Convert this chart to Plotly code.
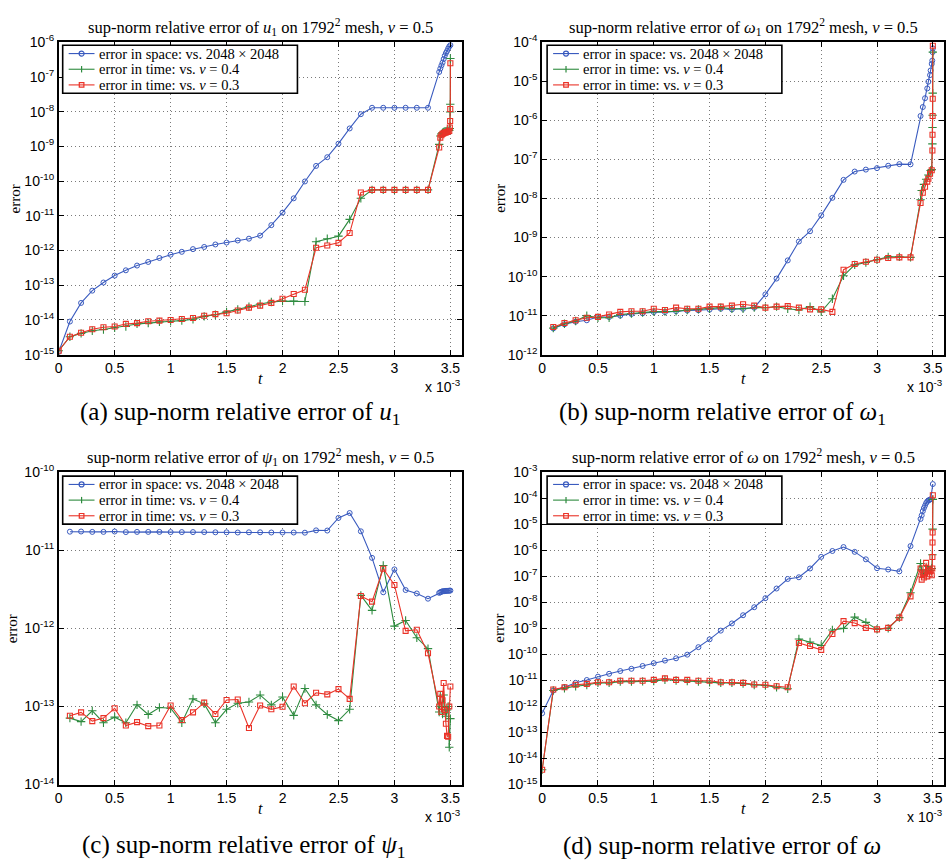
import plotly.graph_objects as go

W, H = 946, 867
SERIF = "Liberation Serif"
SANS = "Liberation Sans"

BLUE = "#3a5bbf"
GREEN = "#2e8b3f"
RED = "#ea3328"

# ---------------- time stamps (in units of 1e-3) ----------------
t_0 = [0.0, 0.1, 0.2, 0.3, 0.4, 0.5, 0.6, 0.7, 0.8, 0.9, 1.0, 1.1, 1.2, 1.3, 1.4, 1.5, 1.6,
       1.7, 1.8, 1.9, 2.0, 2.1, 2.2, 2.3, 2.4, 2.5, 2.6, 2.7, 2.8, 2.9, 3.0, 3.1, 3.2, 3.3]
t_1 = [0.1, 0.2, 0.3, 0.4, 0.5, 0.6, 0.7, 0.8, 0.9, 1.0, 1.1, 1.2, 1.3, 1.4, 1.5, 1.6,
       1.7, 1.8, 1.9, 2.0, 2.1, 2.2, 2.3, 2.4, 2.5, 2.6, 2.7, 2.8, 2.9, 3.0, 3.1, 3.2, 3.3]

# ---------------- (a) u1 ----------------
a_space = [1.2e-15, 9e-15, 3.1e-14, 7e-14, 1.2e-13, 1.9e-13, 2.7e-13, 3.7e-13, 4.7e-13, 6.1e-13,
           7.6e-13, 9.2e-13, 1.1e-12, 1.27e-12, 1.5e-12, 1.7e-12, 1.95e-12, 2.2e-12, 2.7e-12, 5.4e-12,
           1.24e-11, 3.2e-11, 9.8e-11, 2.75e-10, 4.9e-10, 1.2e-9, 3.3e-9, 8.5e-9, 1.3e-8, 1.3e-8,
           1.3e-8, 1.3e-8, 1.3e-8, 1.3e-8]
a_space_tail_t = [3.40, 3.41, 3.42, 3.43, 3.44, 3.45, 3.46, 3.47, 3.48, 3.49, 3.50]
a_space_tail = [1.4e-7, 1.75e-7, 2.15e-7, 2.6e-7, 3.3e-7, 4.1e-7, 4.9e-7, 5.6e-7, 6.6e-7, 7.6e-7, 8.3e-7]

a_nu04 = [1.3e-15, 3.3e-15, 4.1e-15, 4.9e-15, 5.3e-15, 6.0e-15, 6.5e-15, 7.7e-15, 8.1e-15, 8.8e-15,
          9.2e-15, 9.6e-15, 1.05e-14, 1.27e-14, 1.41e-14, 1.71e-14, 2.0e-14, 2.4e-14, 2.9e-14, 3.3e-14,
          3.5e-14, 3.5e-14, 3.4e-14, 1.8e-12, 2.2e-12, 2.6e-12, 7.9e-12, 3.2e-11, 5.6e-11, 5.6e-11,
          5.6e-11, 5.6e-11, 5.6e-11, 5.6e-11]
a_nu03 = [1.3e-15, 3.3e-15, 4.3e-15, 5.4e-15, 6.2e-15, 6.5e-15, 7.7e-15, 8.1e-15, 9.2e-15, 9.6e-15,
          1.0e-14, 1.07e-14, 1.14e-14, 1.32e-14, 1.47e-14, 1.57e-14, 1.87e-14, 2.27e-14, 2.6e-14, 3.1e-14,
          4.1e-14, 5.6e-14, 7.4e-14, 1.2e-12, 1.4e-12, 1.67e-12, 3.2e-12, 4.7e-11, 5.6e-11, 5.6e-11,
          5.6e-11, 5.6e-11, 5.6e-11, 5.6e-11]
a_time_tail_t = [3.40, 3.41, 3.42, 3.43, 3.44, 3.45, 3.46, 3.47, 3.48, 3.49, 3.495, 3.498, 3.499, 3.50]
a_nu04_tail = [1.15e-9, 2.0e-9, 2.3e-9, 2.5e-9, 2.6e-9, 2.7e-9, 2.75e-9, 2.8e-9, 2.85e-9, 2.9e-9,
               3.3e-9, 9.8e-9, 1.65e-8, 3.4e-7]
a_nu03_tail = [9.3e-10, 1.8e-9, 2.1e-9, 2.3e-9, 2.4e-9, 2.5e-9, 2.55e-9, 2.6e-9, 2.7e-9, 2.8e-9,
               3.5e-9, 5.4e-9, 1.2e-8, 2.5e-7]

# ---------------- (b) omega1 ----------------
b_space = [4.7e-12, 6.0e-12, 7.0e-12, 7.6e-12, 9.2e-12, 9.2e-12, 1.0e-11, 1.1e-11, 1.15e-11, 1.23e-11,
           1.23e-11, 1.3e-11, 1.35e-11, 1.37e-11, 1.43e-11, 1.5e-11, 1.45e-11, 1.5e-11, 1.6e-11, 3.5e-11,
           8.9e-11, 2.6e-10, 7.9e-10, 1.45e-9, 3.7e-9, 1.04e-8, 3.0e-8, 4.9e-8, 5.5e-8, 6.0e-8,
           6.9e-8, 7.6e-8, 7.5e-8]
b_space_tail_t = [3.39, 3.41, 3.43, 3.45, 3.46, 3.475, 3.48, 3.49, 3.495, 3.498, 3.50]
b_space_tail = [1.3e-6, 2.2e-6, 3.7e-6, 6.6e-6, 9.8e-6, 1.45e-5, 1.9e-5, 2.8e-5, 3.4e-5, 5.6e-5, 7.0e-5]

b_nu04 = [4.8e-12, 6.2e-12, 7.3e-12, 1.0e-11, 8.8e-12, 8.8e-12, 1.07e-11, 1.13e-11, 1.2e-11, 1.27e-11,
          1.27e-11, 1.3e-11, 1.4e-11, 1.45e-11, 1.5e-11, 1.6e-11, 1.5e-11, 1.5e-11, 1.6e-11, 1.6e-11,
          1.7e-11, 1.5e-11, 1.4e-11, 1.7e-11, 1.25e-11, 2.7e-11, 1.05e-10, 2.0e-10, 2.3e-10, 2.7e-10,
          3.2e-10, 3.2e-10, 3.1e-10]
b_nu04_tail_t = [3.39, 3.40, 3.42, 3.44, 3.46, 3.48, 3.49, 3.496, 3.497, 3.498, 3.499, 3.50]
b_nu04_tail = [9.3e-9, 1.6e-8, 2.3e-8, 3.1e-8, 4.0e-8, 5.2e-8, 5.5e-8, 2.5e-7, 6.6e-7, 1.35e-6, 5.0e-6, 5.6e-5]

b_nu03 = [5.1e-12, 6.5e-12, 7.6e-12, 8.8e-12, 9.3e-12, 1.07e-11, 1.25e-11, 1.3e-11, 1.3e-11, 1.5e-11,
          1.4e-11, 1.6e-11, 1.5e-11, 1.5e-11, 1.7e-11, 1.7e-11, 1.8e-11, 1.95e-11, 1.8e-11, 1.6e-11,
          1.7e-11, 1.75e-11, 1.6e-11, 1.45e-11, 1.45e-11, 1.25e-11, 1.5e-10, 2.1e-10, 2.4e-10, 2.7e-10,
          3.0e-10, 3.1e-10, 3.1e-10]
b_nu03_tail_t = [3.39, 3.41, 3.43, 3.45, 3.46, 3.475, 3.49, 3.496, 3.497, 3.498, 3.499, 3.50]
b_nu03_tail = [7.7e-9, 1.4e-8, 2.0e-8, 2.7e-8, 3.2e-8, 4.3e-8, 5.3e-8, 1.7e-7, 4.3e-7, 1.3e-6, 3.6e-6, 8.2e-5]

# ---------------- (c) psi1 ----------------
c_space = [1.73e-11, 1.74e-11, 1.72e-11, 1.72e-11, 1.74e-11, 1.71e-11, 1.72e-11, 1.72e-11, 1.72e-11, 1.71e-11,
           1.71e-11, 1.71e-11, 1.71e-11, 1.70e-11, 1.70e-11, 1.69e-11, 1.70e-11, 1.70e-11, 1.69e-11, 1.69e-11,
           1.69e-11, 1.68e-11, 1.80e-11, 1.79e-11, 2.6e-11, 3.0e-11, 1.75e-11, 8.0e-12, 2.9e-12, 5.7e-12,
           3.1e-12, 2.8e-12, 2.4e-12]
c_tail_t = [3.40, 3.41, 3.42, 3.43, 3.44, 3.45, 3.46, 3.47, 3.48, 3.49, 3.50]
c_space_tail = [2.85e-12, 2.9e-12, 2.95e-12, 2.98e-12, 3.0e-12, 3.0e-12, 3.02e-12, 3.03e-12, 3.03e-12,
                3.04e-12, 3.05e-12]

c_nu04 = [7.1e-14, 6.4e-14, 8.8e-14, 6.2e-14, 7.3e-14, 6.2e-14, 1.05e-13, 7.9e-14, 9.7e-14, 9.5e-14,
          6.2e-14, 1.25e-13, 1.08e-13, 6.2e-14, 9.2e-14, 1.1e-13, 1.14e-13, 1.4e-13, 1.05e-13, 1.32e-13,
          7.7e-14, 1.7e-13, 1.05e-13, 7.9e-14, 6.6e-14, 9.2e-14, 2.65e-12, 1.7e-12, 6.4e-12, 1.07e-12,
          1.26e-12, 7.6e-13, 5.5e-13]
c_nu04_tail = [8.5e-14, 1.35e-13, 1.0e-13, 8.0e-14, 1.4e-13, 1.0e-13, 7.5e-14, 9.0e-14, 1.0e-13, 3.0e-14, 7.0e-14]

c_nu03 = [7.6e-14, 8.4e-14, 6.5e-14, 7.1e-14, 9.5e-14, 5.7e-14, 6.3e-14, 5.6e-14, 5.7e-14, 1.03e-13,
          6.7e-14, 8.4e-14, 1.12e-13, 8.0e-14, 1.21e-13, 1.23e-13, 5.3e-14, 1.03e-13, 9.2e-14, 9.9e-14,
          1.8e-13, 1.1e-13, 1.5e-13, 1.43e-13, 1.67e-13, 1.25e-13, 2.6e-12, 2.2e-12, 5.8e-12, 3.6e-12,
          9.3e-13, 9.6e-13, 4.8e-13]
c_nu03_tail = [1.0e-13, 1.45e-13, 8.5e-14, 1.2e-13, 2.0e-13, 9.0e-14, 6.0e-14, 4.2e-14, 4.1e-14, 1.0e-13, 1.8e-13]

# ---------------- (d) omega ----------------
d_space = [5.5e-13, 4.1e-12, 5.5e-12, 8.1e-12, 1.04e-11, 1.4e-11, 1.8e-11, 2.3e-11, 2.8e-11, 3.6e-11,
           4.6e-11, 5.8e-11, 7.1e-11, 9.8e-11, 1.9e-10, 3.8e-10, 8.2e-10, 1.55e-9, 3.2e-9, 6.5e-9,
           1.45e-8, 3.4e-8, 7.9e-8, 9.2e-8, 2.0e-7, 5.6e-7, 9.4e-7, 1.33e-6, 8.7e-7, 4.5e-7,
           2.05e-7, 1.83e-7, 1.55e-7, 1.45e-6]
d_space_tail_t = [3.39, 3.40, 3.41, 3.42, 3.43, 3.44, 3.45, 3.46, 3.47, 3.48, 3.50]
d_space_tail = [1.6e-5, 2.2e-5, 3.2e-5, 4.2e-5, 5.2e-5, 6.5e-5, 7.5e-5, 8.2e-5, 8.7e-5, 9.1e-5, 3.5e-4]

d_nu04 = [3.7e-15, 4.1e-12, 5.0e-12, 6.0e-12, 6.7e-12, 8.1e-12, 8.1e-12, 9.0e-12, 9.0e-12, 9.2e-12,
          9.4e-12, 1.07e-11, 1.0e-11, 9.4e-12, 9.0e-12, 8.5e-12, 8.1e-12, 8.1e-12, 7.6e-12, 6.7e-12,
          6.4e-12, 5.5e-12, 4.8e-12, 3.9e-10, 3.0e-10, 2.2e-10, 8.7e-10, 1.0e-9, 2.7e-9, 1.7e-9,
          9.3e-10, 1.0e-9, 2.6e-9, 2.35e-8]
d_nu04_tail_t = [3.39, 3.40, 3.42, 3.44, 3.46, 3.48, 3.49, 3.496, 3.498, 3.50]
d_nu04_tail = [3.1e-7, 1.8e-7, 1.2e-7, 1.6e-7, 2.4e-7, 1.7e-7, 2.0e-7, 6.7e-7, 6.5e-6, 9.0e-5]

d_nu03 = [3.7e-15, 4.5e-12, 5.5e-12, 6.8e-12, 7.4e-12, 8.5e-12, 8.5e-12, 9.8e-12, 9.8e-12, 9.8e-12,
          1.05e-11, 1.2e-11, 1.05e-11, 1.05e-11, 9.8e-12, 9.8e-12, 8.5e-12, 8.5e-12, 8.1e-12, 7.0e-12,
          6.8e-12, 6.0e-12, 5.5e-12, 2.75e-10, 2.1e-10, 1.5e-10, 6.1e-10, 1.9e-9, 1.6e-9, 1.05e-9,
          9.2e-10, 1.05e-9, 2.6e-9, 1.7e-8]
d_nu03_tail_t = [3.39, 3.40, 3.41, 3.42, 3.43, 3.44, 3.45, 3.46, 3.47, 3.48, 3.49, 3.495, 3.496, 3.497,
                 3.498, 3.50]
d_nu03_tail = [2.0e-7, 7.5e-8, 1.15e-7, 9.0e-8, 1.4e-7, 3.3e-7, 1.0e-7, 1.8e-7, 1.2e-7, 1.6e-7, 1.1e-7,
               2.0e-7, 5.5e-7, 2.0e-6, 4.8e-6, 1.3e-4]

# ---------------- labels ----------------
x_tickvals = [0, 0.5, 1, 1.5, 2, 2.5, 3, 3.5]
x_ticktext = ["0", "0.5", "1", "1.5", "2", "2.5", "3", "3.5"]
legend_names = ["error in space: vs. 2048 \u00d7 2048",
                "error in time: vs. <i>\u03bd</i> = 0.4",
                "error in time: vs. <i>\u03bd</i> = 0.3"]

panels = [
    dict(n="", var="<i>u</i><sub>1</sub>", cap="(a) sup-norm relative error of <i>u</i><sub>1</sub>",
         px=(55, 460), py=(33, 352), yr=(-15, -6),
         series=[(t_0 + a_space_tail_t, a_space + a_space_tail),
                 (t_0 + a_time_tail_t, a_nu04 + a_nu04_tail),
                 (t_0 + a_time_tail_t, a_nu03 + a_nu03_tail)],
         ylab_x=11, cap_x=237, cap_y=412, leg=(59, 36, 295)),
    dict(n="2", var="<i>\u03c9</i><sub>1</sub>", cap="(b) sup-norm relative error of <i>\u03c9</i><sub>1</sub>",
         px=(541, 945), py=(33, 352), yr=(-12, -4),
         series=[(t_1 + b_space_tail_t, b_space + b_space_tail),
                 (t_1 + b_nu04_tail_t, b_nu04 + b_nu04_tail),
                 (t_1 + b_nu03_tail_t, b_nu03 + b_nu03_tail)],
         ylab_x=498, cap_x=722, cap_y=412, leg=(546, 36, 782)),
    dict(n="3", var="<i>\u03c8</i><sub>1</sub>", cap="(c) sup-norm relative error of <i>\u03c8</i><sub>1</sub>",
         px=(55, 460), py=(472, 791), yr=(-14, -10),
         series=[(t_1 + c_tail_t, c_space + c_space_tail),
                 (t_1 + c_tail_t, c_nu04 + c_nu04_tail),
                 (t_1 + c_tail_t, c_nu03 + c_nu03_tail)],
         ylab_x=8, cap_x=241, cap_y=854, leg=(59, 476, 295)),
    dict(n="4", var="<i>\u03c9</i>", cap="(d) sup-norm relative error of <i>\u03c9</i>",
         px=(541, 945), py=(472, 791), yr=(-15, -3),
         series=[(t_0 + d_space_tail_t, d_space + d_space_tail),
                 (t_0 + d_nu04_tail_t, d_nu04 + d_nu04_tail),
                 (t_0 + d_nu03_tail_t, d_nu03 + d_nu03_tail)],
         ylab_x=498, cap_x=722, cap_y=854, leg=(546, 476, 782)),
]

styles = [
    dict(color=BLUE, kind="circle",
         marker=dict(symbol="circle-open", size=5, color=BLUE, line=dict(width=1, color=BLUE))),
    dict(color=GREEN, kind="plus",
         marker=dict(symbol="cross-thin", size=6, color=GREEN, line=dict(width=1.1, color=GREEN))),
    dict(color=RED, kind="square",
         marker=dict(symbol="square-open", size=5, color=RED, line=dict(width=1.1, color=RED))),
]
ROW_OFF = [8.5, 24.5, 40.5]
LEG_H = 49


def fx(x):
    return x / W


def fy(y):
    return 1 - y / H


fig = go.Figure()
layout = dict(width=W, height=H, margin=dict(l=0, r=0, t=0, b=0),
              paper_bgcolor="white", plot_bgcolor="white", showlegend=False)
annotations = []
shapes = []
GRID = dict(showgrid=True, gridcolor="#7a7a7a", griddash="1px,3px", gridwidth=1)
AX = dict(showline=True, linecolor="black", linewidth=1.6, mirror="ticks",
          ticks="inside", ticklen=5, tickcolor="black", zeroline=False,
          tickfont=dict(family=SANS, size=14, color="black"))

for p in panels:
    n = p["n"]
    xa, ya = "x" + n, "y" + n
    for (tt, vv), st, name in zip(p["series"], styles, legend_names):
        fig.add_trace(go.Scatter(x=tt, y=vv, mode="lines+markers", name=name,
                                 line=dict(color=st["color"], width=1.1),
                                 marker=st["marker"], xaxis=xa, yaxis=ya,
                                 hoverinfo="skip"))
    lo, hi = p["yr"]
    layout["xaxis" + n] = dict(domain=[fx(p["px"][0]), fx(p["px"][1])], anchor=ya, range=[0, 3.6],
                               tickvals=x_tickvals, ticktext=x_ticktext, **GRID, **AX)
    layout["yaxis" + n] = dict(domain=[fy(p["py"][1]), fy(p["py"][0])], anchor=xa, type="log",
                               range=[lo, hi],
                               tickvals=[10.0 ** k for k in range(lo, hi + 1)],
                               ticktext=["10<sup>%d</sup>" % k for k in range(lo, hi + 1)],
                               **GRID, **AX)
    xc = (p["px"][0] + p["px"][1]) / 2
    # title
    annotations.append(dict(xref="paper", yref="paper", x=fx(xc), y=fy(p["py"][0] - 16),
                            xanchor="center", yanchor="middle", showarrow=False,
                            text="sup-norm relative error of %s on 1792<sup>2</sup> mesh, <i>\u03bd</i> = 0.5" % p["var"],
                            font=dict(family=SERIF, size=16.5, color="black")))
    # y label
    annotations.append(dict(xref="paper", yref="paper", x=fx(p["ylab_x"]), y=fy((p["py"][0] + p["py"][1]) / 2),
                            xanchor="center", yanchor="middle", showarrow=False, textangle=-90,
                            text="error", font=dict(family=SERIF, size=15, color="black")))
    # x label
    annotations.append(dict(xref="paper", yref="paper", x=fx(xc), y=fy(p["py"][1] + 24),
                            xanchor="center", yanchor="middle", showarrow=False,
                            text="<i>t</i>", font=dict(family=SERIF, size=16, color="black")))
    # exponent
    annotations.append(dict(xref="paper", yref="paper", x=fx(p["px"][1] + 1), y=fy(p["py"][1] + 32),
                            xanchor="right", yanchor="middle", showarrow=False,
                            text="x 10<sup>-3</sup>", font=dict(family=SANS, size=14, color="black")))
    # caption
    annotations.append(dict(xref="paper", yref="paper", x=fx(p["cap_x"]), y=fy(p["cap_y"]),
                            xanchor="center", yanchor="middle", showarrow=False,
                            text=p["cap"], font=dict(family=SERIF, size=25, color="black")))

    # legend box (drawn as layout decoration, like MATLAB's boxed legend)
    L, T, R = p["leg"]
    B = T + LEG_H
    shapes.append(dict(type="rect", xref="paper", yref="paper", x0=fx(L), x1=fx(R), y0=fy(B), y1=fy(T),
                       line=dict(color="black", width=1.6), fillcolor="white", layer="above"))
    for st, name, off in zip(styles, legend_names, ROW_OFF):
        yy = fy(T + off)
        c = st["color"]
        shapes.append(dict(type="line", xref="paper", yref="paper", x0=fx(L + 6), x1=fx(L + 32),
                           y0=yy, y1=yy, line=dict(color=c, width=1.1), layer="above"))
        mk = dict(xref="paper", yref="paper", xsizemode="pixel", ysizemode="pixel",
                  xanchor=fx(L + 19), yanchor=yy, layer="above")
        if st["kind"] == "circle":
            shapes.append(dict(type="circle", x0=-2.5, x1=2.5, y0=-2.5, y1=2.5,
                               line=dict(color=c, width=1.2), fillcolor="rgba(0,0,0,0)", **mk))
        elif st["kind"] == "square":
            shapes.append(dict(type="rect", x0=-2.3, x1=2.3, y0=-2.3, y1=2.3,
                               line=dict(color=c, width=1.2), fillcolor="rgba(0,0,0,0)", **mk))
        else:
            shapes.append(dict(type="line", x0=0, x1=0, y0=-3.2, y1=3.2,
                               line=dict(color=c, width=1.2), **mk))
        annotations.append(dict(xref="paper", yref="paper", x=fx(L + 34), y=yy,
                                xanchor="left", yanchor="middle", showarrow=False, text=name,
                                font=dict(family=SERIF, size=14.5, color="black")))

layout["annotations"] = annotations
layout["shapes"] = shapes
fig.update_layout(**layout)
fig.write_html("out.html", config={"displayModeBar": False},
               post_script="document.body.style.margin='0';"
                           "document.documentElement.style.overflow='hidden';")
